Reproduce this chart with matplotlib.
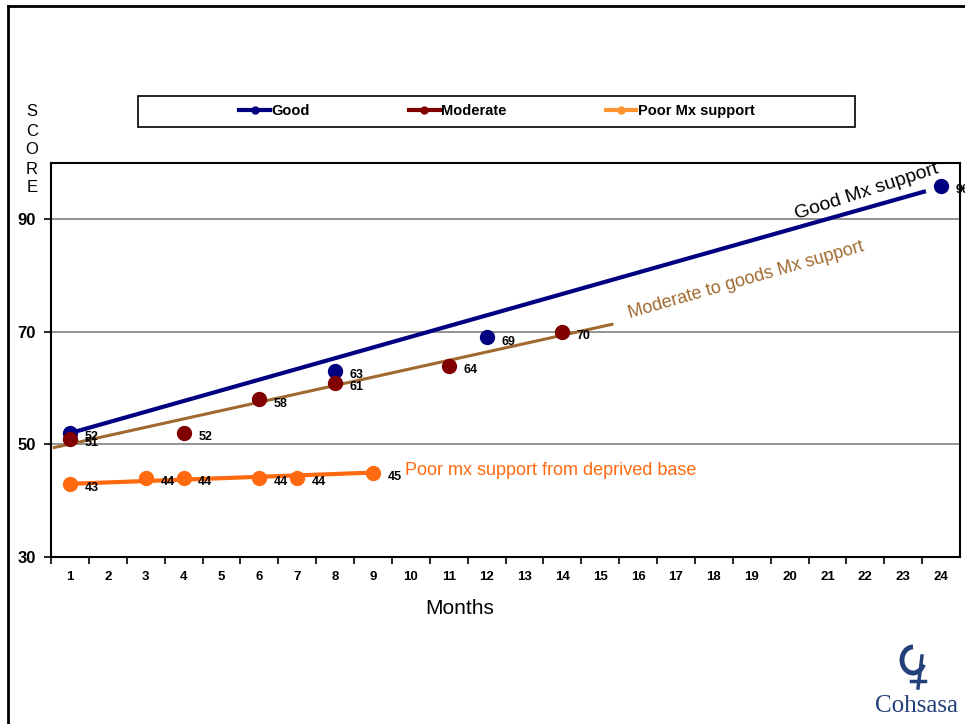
import matplotlib
matplotlib.use("Agg")
import matplotlib.pyplot as plt
from matplotlib.lines import Line2D
from matplotlib.patches import Rectangle, Arc

plt.rcParams['font.family'] = ['Liberation Sans', 'DejaVu Sans']

# month categories on the x axis
months = list(range(1, 25))

# scores per group
good_x = [1, 8, 12, 24]
good_y = [52, 63, 69, 96]
mod_x = [1, 4, 6, 8, 11, 14]
mod_y = [51, 52, 58, 61, 64, 70]
poor_x = [1, 3, 4, 6, 7, 9]
poor_y = [43, 44, 44, 44, 44, 45]

# hand drawn trend lines (start / end)
good_trend_x = [1, 23.6]
good_trend_y = [52, 95]
mod_trend_x = [0.55, 15.35]
mod_trend_y = [49.4, 71.4]
poor_trend_x = [1, 9]
poor_trend_y = [43, 45]

yticks = [30, 50, 70, 90]

c_good = '#000080'
c_mod = '#800000'
c_modline = '#A0692F'
c_poor = '#FF6A10'
c_poorleg = '#FF9330'

fig = plt.figure(figsize=(9.65, 7.24), dpi=100)
ax = fig.add_axes([51/965, 1-557/724, 909/965, 394/724])

for y in yticks[1:]:
    ax.axhline(y, color='#808080', lw=1.2, zorder=0)

ax.plot(good_trend_x, good_trend_y, color=c_good, lw=3, solid_capstyle='butt', zorder=2)
ax.plot(mod_trend_x, mod_trend_y, color=c_modline, lw=2.2, solid_capstyle='butt', zorder=2)
ax.plot(poor_trend_x, poor_trend_y, color=c_poor, lw=3, solid_capstyle='butt', zorder=2)

ax.plot(good_x, good_y, 'o', color=c_good, ms=10, zorder=3)
ax.plot(mod_x, mod_y, 'o', color=c_mod, ms=10, zorder=3)
ax.plot(poor_x, poor_y, 'o', color=c_poor, ms=10, zorder=3)

for xs, ys in [(good_x, good_y), (mod_x, mod_y), (poor_x, poor_y)]:
    for x, y in zip(xs, ys):
        ax.annotate(str(y), (x, y), xytext=(10.5, -3), textcoords='offset points',
                    fontsize=9, fontweight='bold', va='center', ha='left',
                    annotation_clip=False, zorder=4)

ax.text(22.05, 94.9, 'Good Mx support', rotation=18, fontsize=14, color='black',
        ha='center', va='center', rotation_mode='anchor')
ax.text(18.85, 79.1, 'Moderate to goods Mx support', rotation=16, fontsize=13,
        color=c_modline, ha='center', va='center', rotation_mode='anchor')
ax.text(9.85, 45.4, 'Poor mx support from deprived base', fontsize=13,
        color=c_poor, ha='left', va='center')

ax.set_xlim(0.5, 24.5)
ax.set_ylim(30, 100)
ax.set_yticks(yticks)
ax.set_yticklabels([str(v) for v in yticks], fontsize=12, fontweight='bold')
ax.set_xticks([m + 0.5 for m in months[:-1]] + [0.5])
ax.set_xticklabels([])
ax.set_xticks(months, minor=True)
ax.set_xticklabels([str(m) for m in months], minor=True, fontsize=9.5, fontweight='bold')
ax.tick_params(axis='x', which='minor', length=0, pad=10)
ax.tick_params(axis='x', which='major', length=5, width=1.2, direction='out')
ax.tick_params(axis='y', length=5, width=1.2, direction='out', pad=6)
for s in ax.spines.values():
    s.set_linewidth(1.5)
    s.set_color('black')

ax.set_xlabel('Months', fontsize=15)
ax.xaxis.set_label_coords((460-51)/909, -(609-557)/394)
ax.xaxis.label.set_va('center')

# vertical SCORE label
for i, ch in enumerate('SCORE'):
    fig.text(32/965, 1-(112 + i*19)/724, ch, fontsize=12, ha='center', va='center')

# legend box
fig.add_artist(Rectangle((138/965, 1-127/724), 717/965, 31/724, transform=fig.transFigure,
                         fill=False, edgecolor='black', lw=1.2))
handles = [Line2D([], [], color=c_good, lw=3, marker='o', ms=5),
           Line2D([], [], color=c_mod, lw=3, marker='o', ms=5),
           Line2D([], [], color=c_poorleg, lw=3, marker='o', ms=5)]
leg = fig.legend(handles, ['Good', 'Moderate', 'Poor Mx support'], loc='center',
                 bbox_to_anchor=(497/965, 1-111/724), ncol=3, frameon=False,
                 prop={'size': 10.5, 'weight': 'bold'}, handlelength=2.1,
                 handletextpad=0.1, columnspacing=6.8)

# outer slide frame
fig.add_artist(Line2D([8/965, 8/965], [0, 1-6/724], transform=fig.transFigure, color='black', lw=2))
fig.add_artist(Line2D([8/965, 1], [1-6/724, 1-6/724], transform=fig.transFigure, color='black', lw=2))

# logo
fig.text(916/965, 1-706/724, 'Cohsasa', fontsize=18, family='Liberation Serif',
         color='#23407A', ha='center', va='center')
fig.add_artist(Arc((913/965, 1-660/724), 22/965, 26/724, transform=fig.transFigure,
                   theta1=90, theta2=330, color='#23407A', lw=3.5))
fig.add_artist(Line2D([922/965, 918/965], [1-656/724, 1-688/724], transform=fig.transFigure,
                      color='#23407A', lw=2.5))
fig.add_artist(Line2D([911/965, 925/965], [1-681/724, 1-681/724], transform=fig.transFigure,
                      color='#23407A', lw=2.5))

fig.savefig('out.png', dpi=100)
